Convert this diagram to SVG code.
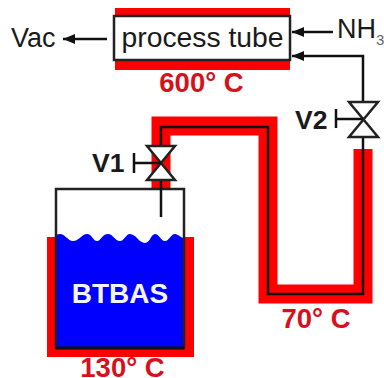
<svg xmlns="http://www.w3.org/2000/svg" width="384" height="378" viewBox="0 0 384 378">
<style>
text{font-family:"Liberation Sans",Arial,sans-serif}
.temp{font-size:27.5px;font-weight:700;fill:#d8101c}
.label{font-size:27px;fill:#1a1a1a}
.vlabel{font-size:27px;font-weight:700;fill:#1a1a1a}
.wire{fill:none;stroke:#111;stroke-width:2.5}
.heat{fill:none;stroke:#f00;stroke-width:19}
.body{fill:#fff;stroke:#222;stroke-width:2.5;stroke-linejoin:miter}
</style>
<defs>
<marker id="arrow" markerUnits="userSpaceOnUse" markerWidth="14" markerHeight="12" refX="12" refY="6" orient="auto"><path d="M0 1L12 6L0 11Z" fill="#111"/></marker>
</defs>
<g id="process-tube">
<rect x="115" y="8" width="175" height="8" fill="#f00"/>
<rect x="115" y="60" width="175" height="10" fill="#f00"/>
<rect x="114" y="16" width="176" height="44" class="body"/>
<text x="202.500" y="47" text-anchor="middle" class="label" style="font-size:28.300px">process tube</text>
<text x="201.500" y="92" text-anchor="middle" class="temp">600° C</text>
</g>
<g id="vac"><text x="11" y="47" class="label">Vac</text></g>
<g id="nh3"><text x="337" y="38" class="label">NH</text><text x="376" y="45" style="font-size:15px;fill:#666">3</text></g>
<g id="heated-line">
<path d="M161 189V126H268V294H363V149" class="heat"/>
<text x="316" y="328" text-anchor="middle" class="temp">70° C</text>
</g>
<g id="bubbler">
<path d="M47 237H56V348H184V237H194V357H47Z" fill="#f00"/>
<path d="M56 235Q58 234 60 234C65 234 68 241 73 241C79 241 82 234 87 234C92 234 93 241 97 241C101 241 102 234 108 234C113 234 115 241 120 241C124 241 126 234 130 234C136 234 139 243 145 243C150 243 151 234 155 234C159 234 161 241 165 241C169 241 171 234 175 234C178 234 181 238 184 238V348H56Z" fill="#00f"/>
<rect x="56" y="189" width="128" height="159" fill="none" stroke="#222" stroke-width="2.5"/>
<path d="M56 348H184" stroke="#111" stroke-width="3"/>
<text x="120" y="303" text-anchor="middle" style="font-size:28px;font-weight:700;fill:#f4f4ff">BTBAS</text>
<text x="122.500" y="377" text-anchor="middle" class="temp">130° C</text>
</g>
<g id="connectors">
<path d="M107 39H63" class="wire" marker-end="url(#arrow)"/>
<path d="M333 32H292" class="wire" marker-end="url(#arrow)"/>
<path d="M363 102V56H292" class="wire" marker-end="url(#arrow)"/>
<path d="M363 137V294H268V127H161V217" class="wire"/>
</g>
<g id="v1">
<path d="M147 146H175L147 180H175Z" fill="#fff" stroke="#222" stroke-width="2.5"/>
<path d="M161 163H134M134 153V173" class="wire"/>
<text x="92" y="172" class="vlabel" style="font-size:26.500px">V1</text>
</g>
<g id="v2">
<path d="M349 102H378L349 137H378Z" fill="#fff" stroke="#222" stroke-width="2.500"/>
<path d="M363 119H336M336 109V128" class="wire"/>
<text x="295" y="129" class="vlabel" style="font-size:26.500px">V2</text>
</g>
</svg>
